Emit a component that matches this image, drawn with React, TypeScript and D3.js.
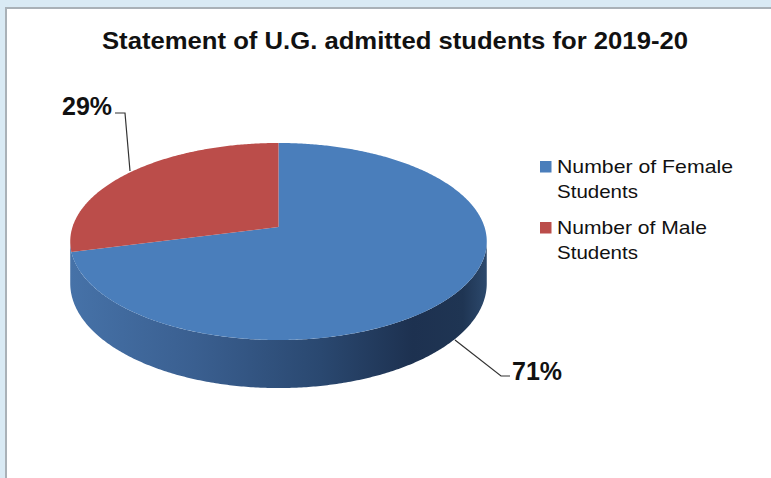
import React from "react";
import * as d3 from "d3";

const categories = ["Number of Female Students", "Number of Male Students"];
const values = [71, 29];
const percentLabels = ["71%", "29%"];
const legendLines = [["Number of Female", "Students"], ["Number of Male", "Students"]];
const title = "Statement of U.G. admitted students for 2019-20";

const W = 771, H = 478;
const CX = 278.5, CY = 227, A = 206, B = 96.4, K = -0.147, DEPTH = 41;
const topColors = ["#4a7ebb", "#bb4d4a"];

function proj(theta: number, level: number): [number, number] {
  const u = Math.sin(theta), v = -Math.cos(theta);
  const den = 1 + K * v;
  return [CX + (A * u) / den, CY + (B * v) / den + (level * DEPTH) / den];
}

function arcPts(t0: number, t1: number, level: number): [number, number][] {
  const n = Math.max(2, Math.ceil(Math.abs(t1 - t0) / 0.01));
  return d3.range(n + 1).map((i) => proj(t0 + ((t1 - t0) * i) / n, level));
}

export default function App() {
  const pie = d3.pie<number>().sort(null).startAngle(0).endAngle(2 * Math.PI);
  const arcs = pie(values);
  const line = d3.line();
  const thR = Math.acos(K);
  const thL = 2 * Math.PI - thR;

  // The visible wall (front) belongs to the large blue slice in the reference.
  const sidePts = [...arcPts(thR, thL, 0), ...arcPts(thL, thR, 1)];

  const tops = arcs.map((a, i) => {
    const pts: [number, number][] = [[CX, CY], ...arcPts(a.startAngle, a.endAngle, 0)];
    return <path key={"t" + i} d={line(pts) + "Z"} fill={topColors[i]} />;
  });

  const txt = "#111111";
  return (
    <div style={{ position: "absolute", left: 0, top: 0 }}>
      <svg width={W} height={H} style={{ display: "block" }} fontFamily="'Liberation Sans', Arial, sans-serif">
        <defs>
          <linearGradient id="sideBlue" gradientUnits="userSpaceOnUse" x1={70} y1={0} x2={488} y2={0}>
            <stop offset="0" stopColor="#4672a8" />
            <stop offset="0.3" stopColor="#3a5f90" />
            <stop offset="0.6" stopColor="#2a4870" />
            <stop offset="0.82" stopColor="#1d3150" />
            <stop offset="0.94" stopColor="#1f3553" />
            <stop offset="1" stopColor="#2d4a6e" />
          </linearGradient>
        </defs>
        <rect x={0} y={0} width={W} height={H} fill="#d9eaf4" />
        <rect x={5} y={7} width={W - 5} height={H - 7} fill="#a9b1b7" />
        <rect x={7} y={9} width={W - 7} height={H - 9} fill="#ffffff" />
        <text x={102} y={49} fontSize={24} fontWeight="bold" fill={txt} textLength={586} lengthAdjust="spacingAndGlyphs">
          {title}
        </text>
        <path d={line(sidePts) + "Z"} fill="url(#sideBlue)" />
        {tops}
        <polyline points="115,113 125,113 130,171" fill="none" stroke="#333" strokeWidth={1.2} />
        <polyline points="455,340 501,376 510,376" fill="none" stroke="#333" strokeWidth={1.2} />
        <text x={62} y={115} fontSize={25} fontWeight="bold" fill={txt}>{percentLabels[1]}</text>
        <text x={512} y={380} fontSize={25} fontWeight="bold" fill={txt}>{percentLabels[0]}</text>
        {categories.map((c, i) => {
          const y0 = i === 0 ? 161 : 222;
          const lens = i === 0 ? [176, 81] : [150, 81];
          return (
            <g key={c}>
              <rect x={540} y={y0} width={11.5} height={11.5} fill={topColors[i]} />
              {legendLines[i].map((l, j) => (
                <text key={j} x={557} y={y0 + 12 + j * 24.5} fontSize={19} fill={txt} textLength={lens[j]} lengthAdjust="spacingAndGlyphs">
                  {l}
                </text>
              ))}
            </g>
          );
        })}
      </svg>
    </div>
  );
}
